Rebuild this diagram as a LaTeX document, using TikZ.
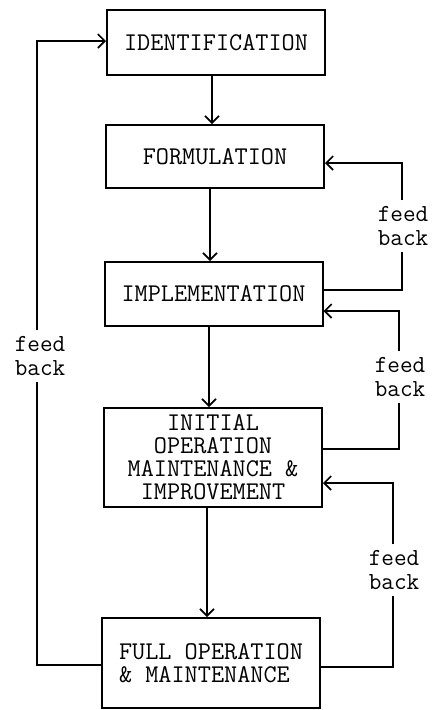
\documentclass[tikz,border=0pt]{standalone}
\usepackage{fontspec}
\usetikzlibrary{arrows.meta}
\begin{document}
\begin{tikzpicture}[x=1pt,y=-1pt,
  box/.style={draw,line width=2pt,minimum width=218pt,inner sep=0pt,
    font=\ttfamily\fontsize{25.5}{23}\selectfont,align=center},
  lbl/.style={font=\ttfamily\fontsize{24.5}{23.5}\selectfont,align=left,inner xsep=0pt,inner ysep=6pt},
  conn/.style={line width=1.6pt},
  arr/.style={conn,-{Straight Barb[length=7pt,width=14pt,line width=1.6pt]}}]
\useasboundingbox (0,0) rectangle (444,710);
\node[box,minimum height=65pt] (ident) at (216,42.5) {IDENTIFICATION};
\node[box,minimum height=63pt] (form) at (215,156.5) {FORMULATION};
\node[box,minimum height=64pt] (impl) at (213.5,294) {IMPLEMENTATION};
\node[box,minimum height=99pt] (init) at (213,457.5) {INITIAL\\OPERATION\\MAINTENANCE \&\\IMPROVEMENT};
\node[box,minimum height=90pt,align=left] (full) at (211,663) {FULL OPERATION\\\& MAINTENANCE};
% main flow
\draw[arr] ([xshift=-4pt]ident.south) -- ([xshift=-4pt]ident.south |- form.north);
\draw[arr] ([xshift=-5pt]form.south) -- ([xshift=-5pt]form.south |- impl.north);
\draw[arr] ([xshift=-4.5pt]impl.south) -- ([xshift=-4.5pt]impl.south |- init.north);
\draw[arr] ([xshift=-6pt]init.south) -- ([xshift=-6pt]init.south |- full.north);
% feedback labels
\node[lbl] (fbl) at (40,356) {feed\\back};
\node[lbl] (fb1) at (403,226) {feed\\back};
\node[lbl] (fb2) at (400,377) {feed\\back};
\node[lbl] (fb3) at (394,570) {feed\\back};
% left feedback
\draw[conn] ([yshift=-2pt]full.west) -| ([xshift=-3pt]fbl.south);
\draw[arr] ([xshift=-3pt]fbl.north) |- ([yshift=1.5pt]ident.west);
% right feedbacks
\draw[conn] ([yshift=4pt]impl.east) -| ([xshift=-1pt]fb1.south);
\draw[arr] ([xshift=-1pt]fb1.north) |- ([yshift=-6.5pt]form.east);
\draw[conn] ([yshift=8.5pt]init.east) -| ([xshift=-1pt]fb2.south);
\draw[arr] ([xshift=-1pt]fb2.north) |- ([yshift=-17pt]impl.east);
\draw[conn] ([yshift=-4pt]full.east) -| ([xshift=-1pt]fb3.south);
\draw[arr] ([xshift=-1pt]fb3.north) |- ([yshift=-25.5pt]init.east);
\end{tikzpicture}
\end{document}
